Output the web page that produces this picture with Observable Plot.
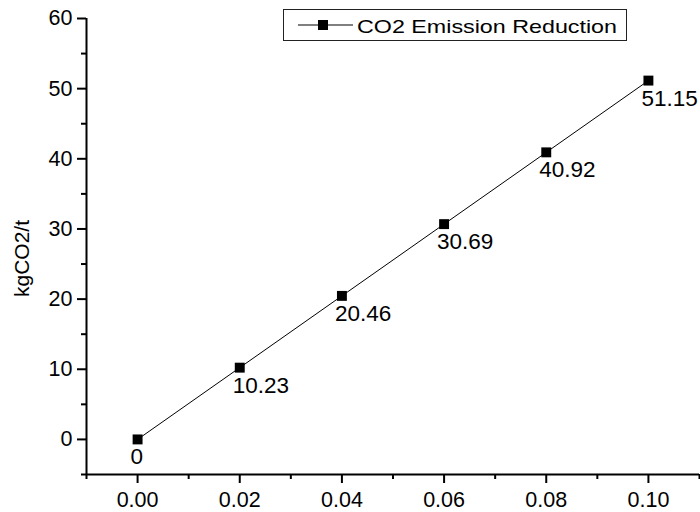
<!DOCTYPE html>
<html>
<head>
<meta charset="utf-8">
<script src="https://cdn.jsdelivr.net/npm/d3@7"></script>
<script src="https://cdn.jsdelivr.net/npm/@observablehq/plot@0.6"></script>
<style>
  html, body { margin: 0; padding: 0; background: white; }
  #wrap { position: relative; width: 700px; height: 512px; }
  #legend { position: absolute; left: 283px; top: 9px; }
</style>
</head>
<body>
<div id="wrap"></div>
<script>
const xValues = [0, 0.02, 0.04, 0.06, 0.08, 0.10];
const yValues = [0, 10.23, 20.46, 30.69, 40.92, 51.15];
const pointLabels = ["0", "10.23", "20.46", "30.69", "40.92", "51.15"];
const xMajorTicks = [0, 0.02, 0.04, 0.06, 0.08, 0.10];
const xMinorTicks = [-0.01, 0.01, 0.03, 0.05, 0.07, 0.09, 0.11];
const yMajorTicks = [0, 10, 20, 30, 40, 50, 60];
const yMinorTicks = [-5, 5, 15, 25, 35, 45, 55];
const seriesName = "CO2 Emission Reduction";
const yLabel = "kgCO2/t";

const data = xValues.map((x, i) => ({x, y: yValues[i], label: pointLabels[i]}));
const font = "'Liberation Sans', Arial, Helvetica, sans-serif";

const chart = Plot.plot({
  width: 700,
  height: 512,
  marginLeft: 86,
  marginRight: 1,
  marginTop: 18,
  marginBottom: 38,
  style: {fontFamily: font, fontSize: "21px", color: "black", background: "white"},
  x: {domain: [-0.01, 0.11]},
  y: {domain: [-5, 60]},
  marks: [
    Plot.axisX(xMajorTicks, {tickSize: 9, tickPadding: 8, stroke: "black", strokeWidth: 2, tickFormat: d3.format(".2f"), fontSize: 21.5, label: null}),
    Plot.axisX(xMinorTicks, {tickSize: 5, stroke: "black", strokeWidth: 2, tickFormat: () => "", label: null}),
    Plot.axisY(yMajorTicks, {tickSize: 9, tickPadding: 5, stroke: "black", strokeWidth: 2, fontSize: 21.5, label: null}),
    Plot.axisY(yMinorTicks, {tickSize: 5, stroke: "black", strokeWidth: 2, tickFormat: () => "", label: null}),
    Plot.ruleX([-0.01], {stroke: "black", strokeWidth: 2}),
    Plot.ruleY([-5], {stroke: "black", strokeWidth: 2}),
    Plot.line(data, {x: "x", y: "y", stroke: "black", strokeWidth: 1}),
    Plot.dot(data, {x: "x", y: "y", symbol: "square", r: 5.6, fill: "black", stroke: null}),
    Plot.text(data, {x: "x", y: "y", text: "label", textAnchor: "start", lineAnchor: "top", dx: -7, dy: 9, fontSize: 22.5, fill: "black"}),
    Plot.text([yLabel], {frameAnchor: "left", textAnchor: "middle", dx: -64, dy: 12, rotate: -90, fontSize: 21, fill: "black"})
  ]
});

const wrap = document.getElementById("wrap");
wrap.appendChild(chart);

// legend
const legend = d3.create("svg")
  .attr("id", "legend")
  .attr("width", 345)
  .attr("height", 33)
  .attr("style", "font-family:" + font);
legend.append("rect").attr("x", 0.5).attr("y", 0.5).attr("width", 343).attr("height", 31)
  .attr("fill", "white").attr("stroke", "#222").attr("stroke-width", 1);
legend.append("line").attr("x1", 15).attr("x2", 70).attr("y1", 16).attr("y2", 16)
  .attr("stroke", "black").attr("stroke-width", 1);
legend.append("rect").attr("x", 35).attr("y", 11).attr("width", 10).attr("height", 10).attr("fill", "black");
legend.append("text").attr("x", 74).attr("y", 23.5)
  .attr("font-size", 19)
  .attr("textLength", 260)
  .attr("lengthAdjust", "spacingAndGlyphs")
  .attr("fill", "black")
  .text(seriesName);
wrap.appendChild(legend.node());
</script>
</body>
</html>
